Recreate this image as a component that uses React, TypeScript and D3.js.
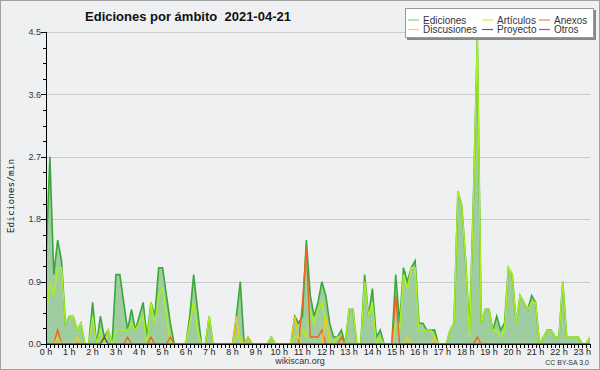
import React from 'react';
import * as d3 from 'd3';

// 10-minute steps, 0h00 .. 23h20
const hourLabels = ['0 h', '1 h', '2 h', '3 h', '4 h', '5 h', '6 h', '7 h', '8 h', '9 h', '10 h', '11 h',
    '12 h', '13 h', '14 h', '15 h', '16 h', '17 h', '18 h', '19 h', '20 h', '21 h', '22 h', '23 h'];

const yTicks = [0, 0.9, 1.8, 2.7, 3.6, 4.5];
const yLabels = ['0.0', '0.9', '1.8', '2.7', '3.6', '4.5'];

const ediciones = [
    1.2, 2.7, 1.0, 1.5, 1.2, 0.3, 0.4, 0.4, 0.2, 0.3,
    0, 0, 0.6, 0, 0.4, 0.1, 0.2, 0, 1.0, 1.0,
    0.6, 0.2, 0.5, 0.2, 0.4, 0.6, 0.1, 0.6, 0.4, 1.1,
    1.1, 0.7, 0.3, 0, 0, 0, 0, 0.4, 1.0, 0.5,
    0, 0, 0.4, 0, 0, 0, 0, 0, 0, 0.4,
    0.9, 0, 0.1, 0, 0, 0, 0, 0, 0.1, 0,
    0, 0, 0, 0, 0.4, 0.3, 0.4, 1.5, 0.7, 0.4,
    0.6, 0.9, 0.7, 0.3, 0.1, 0.1, 0.2, 0, 0.5, 0.5,
    0, 0, 1.0, 0.4, 0.8, 0.1, 0.2, 0, 0, 0,
    1.0, 0.3, 1.1, 0.9, 1.1, 1.2, 0.3, 0.3, 0.2, 0.2,
    0.2, 0, 0, 0, 0.2, 0.3, 2.2, 2.0, 1.2, 0.2,
    2.1, 4.4, 0.3, 0.5, 0.5, 0.2, 0.4, 0.2, 0.3, 1.1,
    1.0, 0.3, 0.7, 0.6, 0.5, 0.7, 0.6, 0, 0.1, 0.2,
    0.2, 0.1, 0.1, 0.9, 0.1, 0.1, 0.1, 0.1, 0, 0,
    0.1
];

const articulos = [
    0.4, 0.9, 0.7, 1.1, 1.1, 0.3, 0.4, 0.4, 0.2, 0.3,
    0, 0, 0.4, 0, 0.2, 0, 0.2, 0, 0.2, 0.2,
    0.2, 0.2, 0.3, 0.2, 0.3, 0.4, 0, 0.6, 0.3, 0.7,
    0.8, 0.4, 0, 0, 0, 0, 0, 0.3, 0.6, 0.2,
    0, 0, 0.4, 0, 0, 0, 0, 0, 0, 0.1,
    0.1, 0, 0, 0, 0, 0, 0, 0, 0.1, 0,
    0, 0, 0, 0, 0.1, 0.1, 0.2, 0.1, 0.5, 0.3,
    0.5, 0.6, 0.3, 0.1, 0, 0.1, 0.1, 0, 0.5, 0.5,
    0, 0, 0.9, 0.4, 0.6, 0, 0.1, 0, 0, 0,
    0.3, 0.2, 1.0, 0.8, 1.1, 1.1, 0.2, 0.2, 0.2, 0.2,
    0.1, 0, 0, 0, 0.2, 0.3, 2.2, 2.0, 1.2, 0.1,
    2.1, 4.4, 0.3, 0.5, 0.5, 0.2, 0.2, 0.1, 0.2, 1.1,
    1.0, 0.3, 0.7, 0.6, 0.5, 0.6, 0.6, 0, 0.1, 0.2,
    0.2, 0.1, 0.1, 0.9, 0.1, 0.1, 0.1, 0.1, 0, 0,
    0.1
];

const anexos = [
    0, 0, 0, 0.2, 0, 0, 0, 0, 0, 0,
    0, 0, 0, 0, 0, 0, 0, 0, 0, 0,
    0, 0.1, 0, 0, 0, 0, 0, 0.1, 0, 0,
    0, 0, 0.1, 0, 0, 0, 0, 0, 0, 0,
    0, 0, 0, 0, 0, 0, 0, 0, 0, 0,
    0, 0, 0, 0, 0, 0, 0, 0, 0, 0,
    0, 0, 0, 0, 0, 0, 0.6, 1.4, 0.1, 0.1,
    0.1, 0.2, 0, 0, 0, 0, 0.1, 0, 0, 0,
    0, 0, 0, 0, 0, 0, 0, 0, 0, 0,
    0.7, 0, 0, 0, 0, 0, 0, 0, 0, 0,
    0, 0, 0, 0, 0, 0, 0, 0, 0, 0,
    0, 0.1, 0, 0, 0, 0, 0, 0, 0, 0,
    0, 0, 0, 0, 0, 0, 0, 0, 0, 0,
    0, 0, 0, 0, 0, 0, 0, 0, 0, 0,
    0
];

const discusiones = [
    0, 0, 0, 0.1, 0, 0, 0, 0, 0.1, 0,
    0, 0, 0, 0, 0, 0, 0, 0, 0, 0,
    0, 0, 0, 0, 0, 0, 0, 0, 0, 0,
    0, 0, 0, 0, 0, 0, 0, 0, 0, 0,
    0, 0, 0, 0, 0, 0, 0, 0, 0, 0.4,
    0, 0, 0.1, 0, 0, 0, 0, 0, 0, 0,
    0, 0, 0, 0, 0.4, 0.1, 0, 0, 0, 0,
    0, 0, 0.4, 0, 0, 0, 0, 0, 0, 0,
    0, 0, 0, 0, 0, 0, 0, 0, 0, 0,
    0, 0, 0, 0.1, 0, 0, 0, 0, 0, 0,
    0.1, 0, 0, 0, 0, 0, 0, 0, 0, 0,
    0, 0, 0, 0, 0, 0, 0, 0, 0, 0,
    0, 0, 0, 0, 0, 0, 0, 0, 0, 0,
    0, 0, 0, 0, 0, 0, 0, 0, 0, 0,
    0
];

const proyecto = [
    0, 0, 0, 0, 0, 0, 0, 0, 0, 0,
    0, 0, 0, 0, 0, 0.1, 0, 0, 0, 0,
    0, 0, 0, 0, 0, 0, 0, 0, 0, 0,
    0, 0, 0, 0, 0, 0, 0, 0, 0, 0,
    0, 0, 0, 0, 0, 0, 0, 0, 0, 0,
    0, 0, 0, 0, 0, 0, 0, 0, 0, 0,
    0, 0, 0, 0, 0, 0, 0, 0, 0, 0,
    0, 0, 0, 0, 0, 0, 0, 0, 0, 0,
    0, 0, 0, 0, 0, 0, 0, 0, 0, 0,
    0, 0, 0, 0, 0, 0, 0, 0, 0, 0,
    0, 0, 0, 0, 0, 0, 0, 0, 0, 0,
    0, 0, 0, 0, 0, 0, 0, 0, 0, 0,
    0, 0, 0, 0, 0, 0, 0, 0, 0, 0,
    0, 0, 0, 0, 0, 0, 0, 0, 0, 0,
    0
];

const lineSeries = [
    { name: 'Artículos', values: articulos, color: '#adf01e' },
    { name: 'Anexos', values: anexos, color: '#f0641e' },
    { name: 'Discusiones', values: discusiones, color: '#f5c81e' },
    { name: 'Proyecto', values: proyecto, color: '#505050' },
];

const legendItems = [
    { name: 'Ediciones', color: '#80d080', col: 0, row: 0 },
    { name: 'Artículos', color: '#c8f03c', col: 1, row: 0 },
    { name: 'Anexos', color: '#f08050', col: 2, row: 0 },
    { name: 'Discusiones', color: '#f8d040', col: 0, row: 1 },
    { name: 'Proyecto', color: '#606060', col: 1, row: 1 },
    { name: 'Otros', color: '#a040f0', col: 2, row: 1 },
];
const legendCols = [408, 482, 539];

export default function App() {

    const W = 600, H = 370;
    const margin = { top: 32, right: 10, bottom: 26, left: 46 };
    const font = 'Liberation Sans, Arial, sans-serif';

    const x = d3.scaleLinear().domain([0, ediciones.length - 1]).range([margin.left, W - margin.right]);
    const y = d3.scaleLinear().domain([0, 4.5]).range([H - margin.bottom, margin.top]);

    const area = d3.area<number>().x((d, i) => x(i)).y0(y(0)).y1(d => y(d));
    const line = d3.line<number>().x((d, i) => x(i)).y(d => y(d));

    const xTicks = d3.range(0, ediciones.length);
    const yMinor = d3.range(0, 21).map(k => k * 0.225);
    const y0 = y(0);

    return <svg width={W} height={H} style={{ position: 'absolute', left: 0, top: 0, display: 'block' }}>
        <defs>
            <clipPath id="plot">
                <rect x={margin.left} y={0} width={W - margin.left - margin.right} height={y0} />
            </clipPath>
        </defs>
        <rect x={0.5} y={0.5} width={W - 1} height={H - 1} fill="#eff0f1" stroke="#a0a0a0" />

        <text x={188} y={21} textAnchor="middle" fontFamily={font} fontWeight="bold" fontSize={13} fill="#111"
            style={{ whiteSpace: 'pre' }}>
            {'Ediciones por ámbito  2021-04-21'}
        </text>

        {/* grid */}
        {yTicks.slice(1).map(t =>
            <line key={t} x1={margin.left} x2={W - margin.right} y1={Math.round(y(t)) + 0.5} y2={Math.round(y(t)) + 0.5}
                stroke="#cccccc" />
        )}

        <g clipPath="url(#plot)">
            <path d={area(ediciones) || ''} fill="#9fcd9f" />
            <path d={line(ediciones) || ''} fill="none" stroke="#38a838" strokeWidth={1.6} />
            {lineSeries.map(s =>
                <path key={s.name} d={line(s.values) || ''} fill="none" stroke={s.color} strokeWidth={1.4} />
            )}
        </g>

        {/* y axis */}
        <line x1={margin.left + 0.5} x2={margin.left + 0.5} y1={margin.top} y2={y0 + 1} stroke="#000" />
        {yMinor.map(t =>
            <line key={t} x1={margin.left - 3} x2={margin.left} y1={Math.round(y(t)) + 0.5} y2={Math.round(y(t)) + 0.5} stroke="#000" />
        )}
        {yTicks.map((t, i) =>
            <g key={t}>
                <line x1={margin.left - 5} x2={margin.left} y1={Math.round(y(t)) + 0.5} y2={Math.round(y(t)) + 0.5} stroke="#000" />
                <text x={margin.left - 5} y={y(t)} dy="0.35em" textAnchor="end" fontFamily={font} fontSize={9} fill="#333">
                    {yLabels[i]}
                </text>
            </g>
        )}
        <text transform={`translate(14,196) rotate(-90)`} textAnchor="middle" fontFamily="DejaVu Sans Mono, monospace"
            fontSize={9.5} fill="#222">Ediciones/min</text>

        {/* x axis */}
        <line x1={margin.left} x2={W - margin.right + 0.5} y1={y0 + 0.5} y2={y0 + 0.5} stroke="#000" />
        {xTicks.map(i =>
            <line key={i} x1={Math.round(x(i)) + 0.5} x2={Math.round(x(i)) + 0.5} y1={y0} y2={y0 + 4} stroke="#000" />
        )}
        {hourLabels.map((h, k) =>
            <text key={h} x={x(k * 6)} y={y0 + 11} textAnchor="middle" fontFamily={font} fontSize={9} fill="#222">{h}</text>
        )}

        <text x={300} y={364} textAnchor="middle" fontFamily={font} fontSize={9} fill="#333">wikiscan.org</text>
        <text x={589} y={365} textAnchor="end" fontFamily={font} fontSize={7} fill="#333">CC BY-SA 3.0</text>

        {/* legend */}
        <rect x={407} y={10} width={189} height={30} fill="#888" />
        <rect x={405.5} y={8.5} width={188} height={29} fill="#fff" stroke="#999" />
        {legendItems.map(it => {
            const lx = legendCols[it.col];
            const ly = it.row === 0 ? 20 : 29.5;
            return <g key={it.name}>
                <line x1={lx} x2={lx + 11} y1={ly} y2={ly} stroke={it.color} strokeWidth={1.2} />
                <text x={lx + 15} y={ly} dy="0.35em" fontFamily={font} fontSize={10} fill="#333">{it.name}</text>
            </g>
        })}
    </svg>
}
